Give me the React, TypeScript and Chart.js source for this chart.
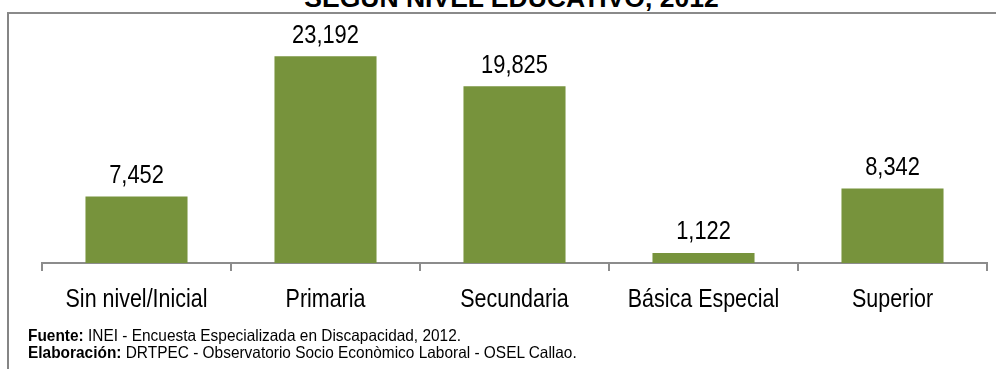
import React, { useEffect, useRef } from "react";
import { Chart, registerables } from "chart.js";

Chart.register(...registerables);

const categories = ["Sin nivel/Inicial", "Primaria", "Secundaria", "Básica Especial", "Superior"];
const values = [7452, 23192, 19825, 1122, 8342];
const yMax = 25000;

const titleText = "SEGÚN NIVEL EDUCATIVO, 2012";
const sourceLabel = "Fuente:";
const sourceText = " INEI - Encuesta Especializada en Discapacidad, 2012.";
const authorLabel = "Elaboración:";
const authorText = " DRTPEC - Observatorio Socio Econòmico Laboral - OSEL Callao.";

const SANS = "'Liberation Sans', Arial, sans-serif";
const BAR = "#77933C";
const AXIS = "#8c8c8c";
const NARROW_X = 0.825;

function narrowText(ctx: CanvasRenderingContext2D, text: string, x: number, y: number) {
  ctx.save();
  ctx.translate(x, y);
  ctx.scale(NARROW_X, 1);
  ctx.fillText(text, 0, 0);
  ctx.restore();
}

const textPlugin = {
  id: "narrowTexts",
  afterDatasetsDraw(chart: any) {
    const ctx = chart.ctx as CanvasRenderingContext2D;
    const meta = chart.getDatasetMeta(0);
    ctx.save();
    ctx.fillStyle = "#000";
    ctx.textAlign = "center";
    ctx.textBaseline = "alphabetic";
    ctx.font = `26.5px ${SANS}`;
    meta.data.forEach((bar: any, i: number) => {
      const v = chart.data.datasets[0].data[i] as number;
      narrowText(ctx, v.toLocaleString("en-US"), bar.x, bar.y - 13.5);
    });
    const xs = chart.scales.x;
    ctx.font = `26px ${SANS}`;
    (chart.data.labels as string[]).forEach((lab, i) => {
      narrowText(ctx, lab, xs.getPixelForValue(i), 306.5);
    });
    ctx.restore();
  },
};

export default function App() {
  const ref = useRef<HTMLCanvasElement>(null);
  useEffect(() => {
    document.body.style.margin = "0";
    if (!ref.current) return;
    const chart = new Chart(ref.current, {
      type: "bar",
      data: {
        labels: categories,
        datasets: [
          {
            data: values,
            backgroundColor: BAR,
            borderWidth: 0,
            categoryPercentage: 1,
            barPercentage: 0.54,
          },
        ],
      },
      options: {
        responsive: false,
        animation: false,
        devicePixelRatio: 1,
        layout: { padding: { left: 42, right: 9, top: 40, bottom: 0 } },
        plugins: { legend: { display: false }, tooltip: { enabled: false }, title: { display: false } },
        scales: {
          x: {
            grid: {
              drawOnChartArea: false,
              drawTicks: true,
              tickLength: 8,
              color: AXIS,
              lineWidth: 2,
              offset: true,
            },
            border: { display: true, color: AXIS, width: 2 },
            ticks: {
              color: "rgba(0,0,0,0)",
              padding: 10,
              maxRotation: 0,
              autoSkip: false,
              font: { family: SANS, size: 26 },
            },
            afterFit: (scale: any) => {
              scale.height = 106;
            },
          },
          y: { display: false, min: 0, max: yMax },
        },
      },
      plugins: [textPlugin],
    });
    return () => chart.destroy();
  }, []);

  return (
    <div style={{ position: "relative", width: 996, height: 369, overflow: "hidden", background: "#fff" }}>
      <div
        style={{
          position: "absolute",
          left: 7,
          top: 12,
          width: 1200,
          height: 500,
          borderLeft: "2px solid #858585",
          borderTop: "2px solid #8a8a8a",
        }}
      />
      <div
        style={{
          position: "absolute",
          left: 511.5,
          top: -15.4,
          transform: "translateX(-50%)",
          whiteSpace: "nowrap",
          fontFamily: SANS,
          fontWeight: "bold",
          fontSize: 26.5,
          lineHeight: "26.5px",
          color: "#000",
        }}
      >
        {titleText}
      </div>
      <canvas ref={ref} width={996} height={369} style={{ position: "absolute", left: 0, top: 0 }} />
      <div
        style={{
          position: "absolute",
          left: 28,
          top: 326.8,
          fontFamily: SANS,
          fontSize: 16.5,
          lineHeight: "16.8px",
          color: "#000",
          whiteSpace: "nowrap",
          transform: "scaleX(0.935)",
          transformOrigin: "0 0",
        }}
      >
        <div>
          <b>{sourceLabel}</b>
          {sourceText}
        </div>
        <div>
          <b>{authorLabel}</b>
          {authorText}
        </div>
      </div>
    </div>
  );
}
